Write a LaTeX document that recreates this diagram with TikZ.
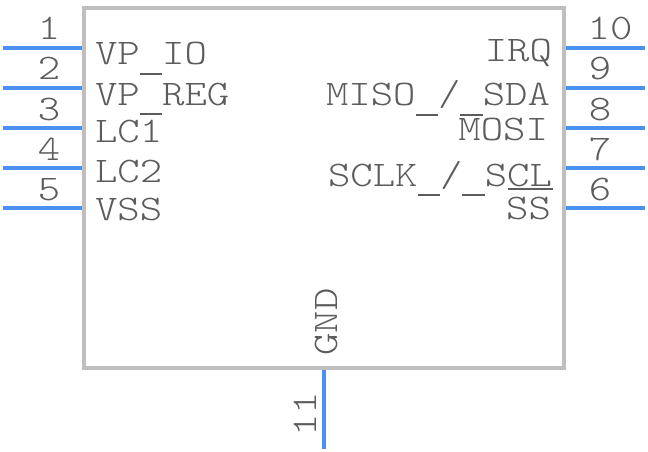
\documentclass[tikz,border=0pt]{standalone}
\usepackage{fontspec}
\newfontfamily\pinfont[FakeStretch=1.185]{Latin Modern Mono Light}
\newcommand{\lowbar}{\rule[-10pt]{22.4pt}{2pt}}
\definecolor{bodygray}{HTML}{BFBFBF}
\definecolor{pinblue}{HTML}{4A90F0}
\definecolor{textgray}{HTML}{5C5C5C}
\tikzset{
  x=1pt,y=-1pt,
  body/.style={draw=bodygray,line width=4pt,fill=white,outer sep=0pt,inner sep=0pt},
  pinline/.style={draw=pinblue,line width=4pt},
  lab/.style={inner sep=0pt,outer sep=0pt,text=textgray,font=\pinfont\fontsize{36}{36}\selectfont},
  labl/.style={lab,anchor=base west},
  labr/.style={lab,anchor=base east},
  num/.style={lab,anchor=base},
  bar/.style={draw=textgray,line width=2pt}
}
\begin{document}
\begin{tikzpicture}
\useasboundingbox (0,0) rectangle (648,452);
\node[body,minimum width=480pt,minimum height=360pt,anchor=center] (chip) at (324,188) {};
% left pins
\foreach \n/\y in {1/48,2/88,3/128,4/168,5/208}{
  \coordinate (p\n a) at (3,\y);
  \coordinate (p\n b) at (82,\y);
  \draw[pinline] (p\n a) -- (p\n b);
}
% right pins
\foreach \n/\y in {10/48,9/88,8/128,7/168,6/208}{
  \coordinate (p\n a) at (566,\y);
  \coordinate (p\n b) at (645,\y);
  \draw[pinline] (p\n a) -- (p\n b);
}
\coordinate (p11a) at (324,370);
\coordinate (p11b) at (324,449);
\draw[pinline] (p11a) -- (p11b);
% pin numbers
\foreach \n/\y in {1/40,2/80,3/120,4/160,5/200}{
  \node[num] (n\n) at (49,\y) {\n};
}
\foreach \n/\y in {9/80,8/120,7/160,6/200}{
  \node[num] (n\n) at (600,\y) {\n};
}
\node[num] (n10) at (610,40) {10};
\node[num,rotate=90] (n11) at (316,414) {11};
% signal names
\node[labl] (vpio) at (95,65) {VP\lowbar IO};
\node[labl] (vpreg) at (95,105) {VP\lowbar REG};
\node[labl] (lc1) at (95,142) {LC1};
\node[labl] (lc2) at (95,182) {LC2};
\node[labl] (vss) at (95,220) {VSS};
\node[labr] (irq) at (552,62) {IRQ};
\node[labr] (miso) at (550,106) {MISO\lowbar/\lowbar SDA};
\node[labr] (mosi) at (548,140) {MOSI};
\node[labr] (sclk) at (552,186) {SCLK\lowbar/\lowbar SCL};
\node[labr] (ss) at (551,219) {SS};
\node[lab,rotate=90,anchor=base] (gnd) at (337,322) {GND};
\coordinate (barl) at (508,189);
\coordinate (barr) at (553,189);
\draw[bar] (barl) -- (barr);
\end{tikzpicture}
\end{document}
